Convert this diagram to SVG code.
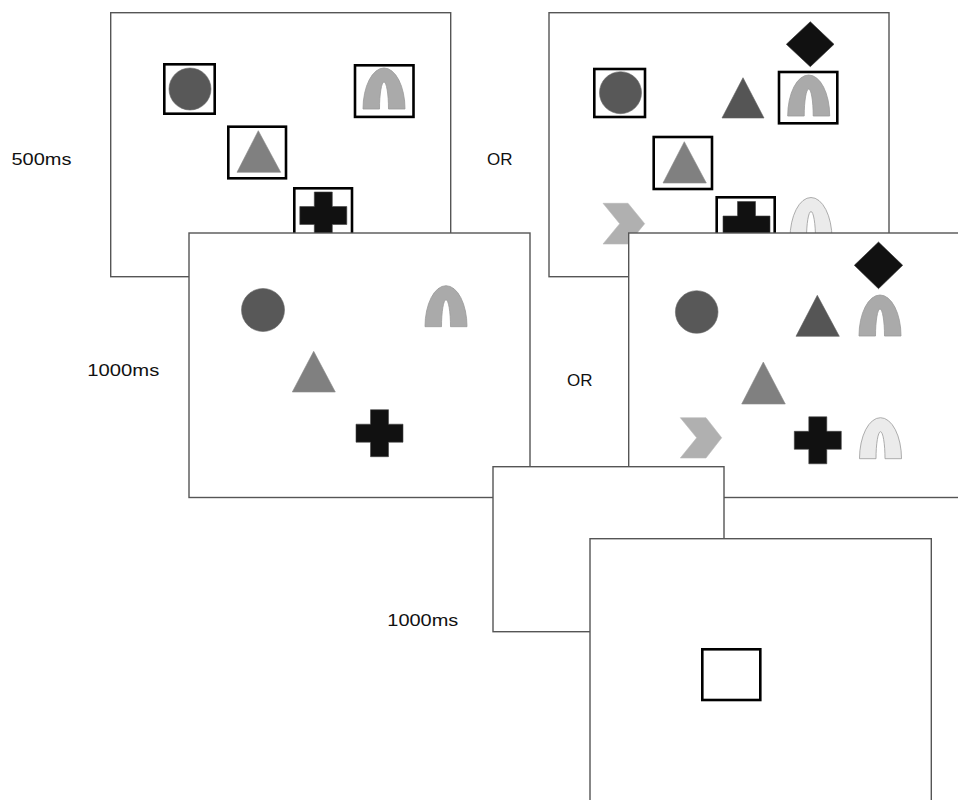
<svg xmlns="http://www.w3.org/2000/svg" xmlns:xlink="http://www.w3.org/1999/xlink" width="958" height="800" viewBox="0 0 958 800">
<style>
.frame{fill:#fff;stroke:#555;stroke-width:1.4}
.box{fill:none;stroke:#000;stroke-width:2.6}
.circ{fill:#585858;stroke:#6a6a6a;stroke-width:0.6}
.tri{fill:#808080;stroke:#8a8a8a;stroke-width:0.6}
.dtri{fill:#555;stroke:#606060;stroke-width:0.6}
.cross{fill:#111;stroke:#444;stroke-width:0.6}
.dia{fill:#111;stroke:#333;stroke-width:0.6}
.arch{fill:#aaa;stroke:#999;stroke-width:0.8}
.larch{fill:#ebebeb;stroke:#999;stroke-width:0.8}
.chev{fill:#b0b0b0;stroke:#bbb;stroke-width:0.6}
.lbl{font-family:"Liberation Sans",Arial,sans-serif;font-size:17px;fill:#111}
</style>
<defs>
<path id="archP" d="M-21,0 A21,41 0 0 1 21,0 L4.5,0 A4.5,27 0 0 0 -4.5,0 Z"/>
<path id="crossP" d="M-9,-23.5 H9 V-9 H23.5 V9 H9 V23.5 H-9 V9 H-23.5 V-9 H-9 Z"/>
</defs>

<g id="frame1">
<rect class="frame" x="110.7" y="12.7" width="340" height="264"/>
<rect class="box" x="164.3" y="64.3" width="50.4" height="49.4"/>
<circle class="circ" cx="190" cy="89" r="21"/>
<rect class="box" x="355" y="65.3" width="58.5" height="51.6"/>
<use href="#archP" class="arch" transform="translate(384,109)"/>
<rect class="box" x="228.3" y="126.7" width="57.7" height="51.6"/>
<polygon class="tri" points="258.3,130.7 280.7,172.3 237,172.3"/>
<rect class="box" x="294.3" y="188.3" width="57.7" height="55"/>
<use href="#crossP" class="cross" transform="translate(323.3,215.5)"/>
</g>

<g id="frame2">
<rect class="frame" x="189" y="233" width="341" height="264.5"/>
<circle class="circ" cx="263" cy="310" r="21.5"/>
<use href="#archP" class="arch" transform="translate(446,326.7)"/>
<polygon class="tri" points="313.7,351.3 335.3,392 292.3,392"/>
<use href="#crossP" class="cross" transform="translate(379.5,433.2)"/>
</g>

<g id="frame3">
<rect class="frame" x="549" y="12.7" width="340" height="264"/>
<polygon class="dia" points="810.3,21.7 834,44.3 810.3,66.7 786.3,44.3"/>
<rect class="box" x="594.3" y="69" width="50.7" height="48"/>
<circle class="circ" cx="620.5" cy="92.7" r="21"/>
<polygon class="dtri" points="743,77.7 764,118 722,118"/>
<rect class="box" x="779" y="72" width="58.3" height="51.3"/>
<use href="#archP" class="arch" transform="translate(808.7,116)"/>
<rect class="box" x="653.7" y="137" width="58.3" height="52"/>
<polygon class="tri" points="684.3,141.7 706.3,183 663,183"/>
<polygon class="chev" points="603,203.3 628,203.3 644.7,223.7 628,244 603,244 619.7,223.7"/>
<rect class="box" x="716.7" y="197.3" width="58" height="55"/>
<use href="#crossP" class="cross" transform="translate(746.5,225)"/>
<use href="#archP" class="larch" transform="translate(811,238.5)"/>
</g>

<g id="frame4">
<rect class="frame" x="628.7" y="233" width="341" height="264.5"/>
<polygon class="dia" points="878.5,242 902.7,265.3 878.5,288.7 854.3,265.3"/>
<circle class="circ" cx="696.7" cy="312" r="21.3"/>
<polygon class="dtri" points="817.3,295.3 839.3,336.3 796,336.3"/>
<use href="#archP" class="arch" transform="translate(880,336)"/>
<polygon class="tri" points="763.3,362 785.3,404 741.7,404"/>
<polygon class="chev" points="680.3,417.7 706,417.7 721.7,437.8 706,458 680.3,458 696.7,437.8"/>
<use href="#crossP" class="cross" transform="translate(817.8,440.3)"/>
<use href="#archP" class="larch" transform="translate(880.5,458.7)"/>
</g>

<g id="frame5">
<rect class="frame" x="493" y="466.7" width="231" height="165"/>
</g>

<g id="frame6">
<rect class="frame" x="590" y="538.7" width="341.3" height="270"/>
<rect class="box" x="702.3" y="649.3" width="58" height="50.7"/>
</g>

<g id="labels">
<text class="lbl" x="11.5" y="165" textLength="60" lengthAdjust="spacingAndGlyphs">500ms</text>
<text class="lbl" x="487" y="165">OR</text>
<text class="lbl" x="567" y="385.7">OR</text>
<text class="lbl" x="87.3" y="375.7" textLength="72" lengthAdjust="spacingAndGlyphs">1000ms</text>
<text class="lbl" x="387.3" y="625.7" textLength="71" lengthAdjust="spacingAndGlyphs">1000ms</text>
</g>
</svg>
